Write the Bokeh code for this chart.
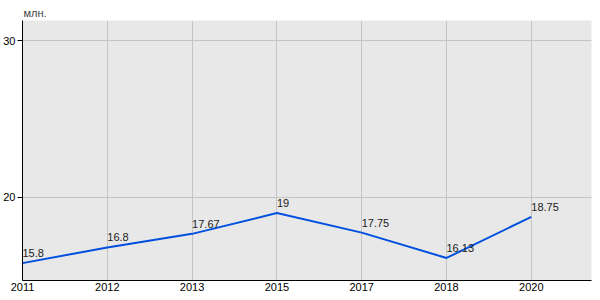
from bokeh.plotting import figure
from bokeh.models import ColumnDataSource, Range1d, FixedTicker
from bokeh.core.properties import value
from bokeh.embed import file_html
from bokeh.resources import INLINE

years = ["2011", "2012", "2013", "2015", "2017", "2018", "2020"]
values = [15.8, 16.8, 17.67, 19, 17.75, 16.13, 18.75]
labels = ["15.8", "16.8", "17.67", "19", "17.75", "16.13", "18.75"]
y_ticks = [20, 30]
unit = "млн."

xs = list(range(len(years)))
src = ColumnDataSource(dict(x=xs, y=values, label=labels))

FONT = "Liberation Sans"

p = figure(width=600, height=300, output_backend="svg", toolbar_location=None,
           x_range=Range1d(0, len(years) - 1 + 0.71), y_range=Range1d(14.69, 31.3),
           min_border_left=20, min_border_right=9, min_border_top=20, min_border_bottom=20,
           background_fill_color="#e8e8e8", border_fill_color="white")
p.outline_line_color = None
p.title.text = unit
p.title.text_font = FONT
p.title.text_font_size = "11px"
p.title.text_font_style = "normal"
p.title.align = "left"
p.title.offset = 1
p.title.standoff = 3

p.xaxis.ticker = FixedTicker(ticks=xs)
p.xaxis.major_label_overrides = {i: y for i, y in enumerate(years)}
p.xaxis.major_label_text_align = "left"
p.xaxis.major_tick_line_color = None
p.xaxis.major_tick_out = 0
p.xaxis.minor_tick_line_color = None
p.xaxis.axis_line_color = "black"
p.xaxis.major_label_standoff = 2

p.yaxis.ticker = FixedTicker(ticks=y_ticks)
p.yaxis.major_tick_in = 0
p.yaxis.major_tick_out = 5
p.yaxis.minor_tick_line_color = None
p.yaxis.axis_line_color = "black"
p.yaxis.major_label_standoff = 2

for ax in (p.xaxis, p.yaxis):
    ax.major_label_text_font = FONT
    ax.major_label_text_font_size = "11px"
    ax.major_label_text_color = "black"

p.xgrid.ticker = FixedTicker(ticks=xs)
p.ygrid.ticker = FixedTicker(ticks=y_ticks)
p.grid.grid_line_color = "#c4c4c4"
p.grid.grid_line_width = 1

p.line("x", "y", source=src, line_color="#0050e0", line_width=2)
p.text("x", "y", text="label", source=src, text_font=value(FONT), text_font_size="11px",
       text_align="left", text_baseline="alphabetic", x_offset=0, y_offset=-10,
       text_color="#222222")

open("out.html", "w").write(file_html(p, INLINE))
